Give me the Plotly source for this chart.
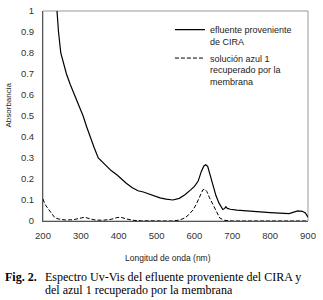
import plotly.graph_objects as go

# Effluent from CIRA (solid)
wl_cira = [225, 237, 241, 247, 255, 262, 272, 284, 295, 306, 315, 324, 335, 346, 355, 368, 380, 395,
           408, 420, 435, 451, 465, 480, 495, 509, 525, 543, 560, 575, 590, 600, 610, 618, 625, 630,
           635, 642, 649, 657, 665, 675, 680, 683, 687, 695, 712, 750, 800, 850, 862, 873, 885, 893, 900]
abs_cira = [1.3, 1.0, 0.9, 0.8, 0.74, 0.7, 0.65, 0.6, 0.55, 0.5, 0.45, 0.4, 0.35, 0.3, 0.285, 0.259, 0.24, 0.22,
            0.198, 0.18, 0.16, 0.144, 0.138, 0.128, 0.118, 0.11, 0.104, 0.10, 0.108, 0.125, 0.148, 0.165, 0.19, 0.235, 0.262, 0.268,
            0.26, 0.215, 0.165, 0.12, 0.085, 0.055, 0.06, 0.068, 0.06, 0.056, 0.052, 0.046, 0.04, 0.035, 0.042, 0.048, 0.046, 0.038, 0.018]

# Recovered blue 1 solution (dashed)
wl_azul = [200, 205, 215, 225, 232, 245, 260, 280, 295, 310, 325, 340, 360, 380, 395, 405, 420, 440, 460,
           500, 540, 560, 575, 585, 596, 605, 615, 622, 627, 633, 640, 649, 658, 667, 680, 700, 800, 900]
abs_azul = [0.105, 0.08, 0.055, 0.03, 0.014, 0.008, 0.005, 0.006, 0.013, 0.018, 0.01, 0.004, 0.004, 0.008, 0.016, 0.018, 0.01, 0.003, 0.001,
            0.0, 0.0, 0.004, 0.015, 0.03, 0.052, 0.08, 0.12, 0.148, 0.152, 0.14, 0.11, 0.076, 0.04, 0.014, 0.003, 0.0, 0.0, 0.0]

x_ticks = [200, 300, 400, 500, 600, 700, 800, 900]
y_ticks = [0, 0.1, 0.2, 0.3, 0.4, 0.5, 0.6, 0.7, 0.8, 0.9, 1]
y_tick_labels = ["0", "0.1", "0.2", "0.3", "0.4", "0.5", "0.6", "0.7", "0.8", "0.9", "1"]

name_cira = "efluente proveniente<br>de CIRA"
name_azul = "solución azul 1<br>recuperado por la<br>membrana"

fig = go.Figure()
fig.add_trace(go.Scatter(x=wl_cira, y=abs_cira, mode="lines", name=name_cira, legendgroup="a",
                         line=dict(color="black", width=1.2)))
fig.add_trace(go.Scatter(x=wl_azul, y=abs_azul, mode="lines", name=name_azul, legendgroup="b",
                         line=dict(color="black", width=1, dash="4px,2px")))

sans = "Liberation Sans, Arial, sans-serif"
serif = "Liberation Serif, Times New Roman, serif"

fig.update_layout(
    width=323, height=300,
    margin=dict(l=43, r=15, t=11, b=79, autoexpand=False),
    paper_bgcolor="white", plot_bgcolor="white",
    font=dict(family=sans, size=9, color="#222"),
    showlegend=True,
    legend=dict(x=0.479, y=0.97, xanchor="left", yanchor="top", traceorder="grouped",
                bgcolor="rgba(0,0,0,0)", font=dict(size=9, color="#222"),
                tracegroupgap=2, itemwidth=30, valign="top"),
    xaxis=dict(range=[200, 900], tickvals=x_ticks, ticks="", showgrid=False, zeroline=False,
               showline=True, linecolor="#555", linewidth=1, automargin=False,
               ticklabelstandoff=6, tickfont=dict(size=9.5, color="#333")),
    yaxis=dict(range=[0, 1], tickvals=y_ticks, ticktext=y_tick_labels, ticks="", showgrid=False,
               zeroline=False, showline=True, linecolor="#555", linewidth=1, automargin=False,
               ticklabelstandoff=6, tickfont=dict(size=9.5, color="#333")),
    shapes=[dict(type="rect", xref="paper", yref="paper", x0=0, y0=0, x1=1, y1=1,
                 line=dict(color="#999", width=1), layer="below")],
    annotations=[
        dict(text="Absorbancia", xref="paper", yref="paper", x=-0.132, y=0.55, textangle=-90,
             showarrow=False, font=dict(size=8, color="#222"), xanchor="center", yanchor="middle"),
        dict(text="Longitud de onda (nm)", xref="paper", yref="paper", x=0.47, y=-0.176,
             showarrow=False, font=dict(size=8.5, color="#222"), xanchor="center", yanchor="middle"),
        dict(text="<b>Fig. 2.</b>", xref="paper", yref="paper", x=-0.151, y=-0.267,
             showarrow=False, font=dict(family=serif, size=12, color="black"),
             xanchor="left", yanchor="middle"),
        dict(text="Espectro Uv-Vis del efluente proveniente del CIRA y", xref="paper", yref="paper",
             x=0.0, y=-0.267, showarrow=False, font=dict(family=serif, size=12, color="black"),
             xanchor="left", yanchor="middle"),
        dict(text="del azul 1 recuperado por la membrana", xref="paper", yref="paper",
             x=0.0, y=-0.327, showarrow=False, font=dict(family=serif, size=12, color="black"),
             xanchor="left", yanchor="middle"),
    ],
)

fig.write_html("out.html", config={"displayModeBar": False},
               post_script="document.body.style.margin='0';")
